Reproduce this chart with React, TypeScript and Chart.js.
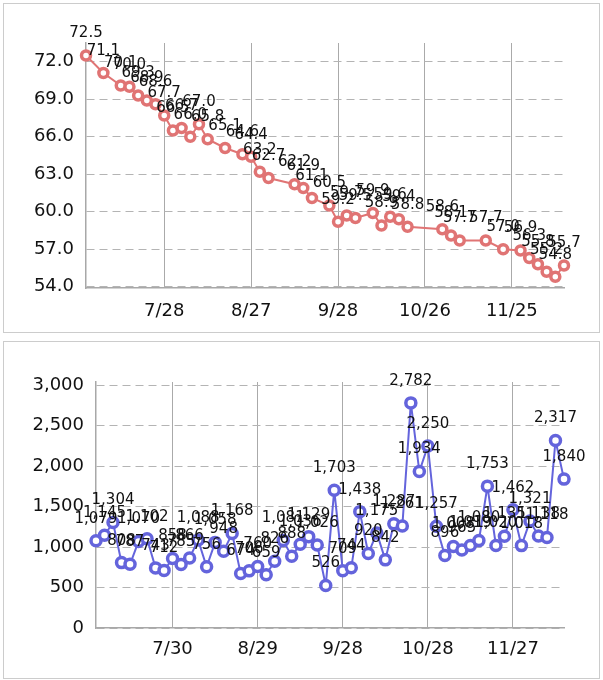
import React, { useEffect, useRef } from 'react';
import { Chart, registerables } from 'chart.js';

Chart.register(...registerables);

// ---------- Top chart (weight) ----------
const weightTickIndex = [9, 19, 29, 39, 49];
const weightTickLabels = ['7/28', '8/27', '9/28', '10/26', '11/25'];
const weightValues: (number | null)[] = [
  72.5, null, 71.1, null, 70.1, 70.0, 69.3, 68.9, 68.6, 67.7,
  66.5, 66.7, 66.0, 67.0, 65.8, null, 65.1, null, 64.6, 64.4,
  63.2, 62.7, null, null, 62.2, 61.9, 61.1, null, 60.5, 59.2,
  59.7, 59.5, null, 59.9, 58.9, 59.6, 59.4, 58.8, null, null,
  null, 58.6, 58.1, 57.7, null, null, 57.7, null, 57.0, null,
  56.9, 56.3, 55.8, 55.2, 54.8, 55.7,
];
const weightYTicks = [54, 57, 60, 63, 66, 69, 72];

// ---------- Bottom chart ----------
const countTickIndex = [9, 19, 29, 39, 49];
const countTickLabels = ['7/30', '8/29', '9/28', '10/28', '11/27'];
const countValues: number[] = [
  1079, 1145, 1304, 808, 787, 1070, 1102, 743, 712, 858,
  785, 866, 1088, 756, 1058, 948, 1168, 674, 706, 760,
  659, 826, 1081, 888, 1036, 1129, 1026, 526, 1703, 709,
  744, 1438, 920, 1175, 842, 1287, 1261, 2782, 1934, 2250,
  1257, 896, 1008, 965, 1019, 1080, 1753, 1020, 1135, 1462,
  1018, 1321, 1138, 1118, 2317, 1840,
];
const countYTicks = [0, 500, 1000, 1500, 2000, 2500, 3000];

const FONT = 'DejaVu Sans';

function buildLabels(n: number, idx: number[], names: string[]) {
  return Array.from({ length: n }, (_, i) => {
    const k = idx.indexOf(i);
    return k >= 0 ? names[k] : '';
  });
}

function makeLabelPlugin(fmt: (v: number) => string, offset: number) {
  return {
    id: 'valueLabels',
    afterDatasetsDraw(chart: any) {
      const ctx = chart.ctx;
      const meta = chart.getDatasetMeta(0);
      const data = chart.data.datasets[0].data as (number | null)[];
      ctx.save();
      ctx.font = `15px "${FONT}"`;
      ctx.fillStyle = '#111';
      ctx.textAlign = 'center';
      ctx.textBaseline = 'middle';
      meta.data.forEach((pt: any, i: number) => {
        const v = data[i];
        if (v == null) return;
        ctx.fillText(fmt(v), pt.x, pt.y - offset);
      });
      ctx.restore();
    },
  };
}

type CardProps = {
  width: number;
  height: number;
  labels: string[];
  tickIndex: number[];
  values: (number | null)[];
  color: string;
  yMin: number;
  yMax: number;
  yTicks: number[];
  yFmt: (v: number) => string;
  labelFmt: (v: number) => string;
  yAxisWidth: number;
  xAxisHeight: number;
  padTop: number;
  padRight: number;
  pointRadius: number;
  xPad: number;
};

function LineChart(p: CardProps) {
  const ref = useRef<HTMLCanvasElement | null>(null);
  useEffect(() => {
    if (!ref.current) return;
    const chart = new Chart(ref.current, {
      type: 'line',
      data: {
        labels: p.labels,
        datasets: [
          {
            data: p.values,
            borderColor: p.color,
            backgroundColor: '#ffffff',
            borderWidth: 2,
            pointRadius: p.pointRadius,
            pointBorderWidth: 3.5,
            pointBorderColor: p.color,
            pointBackgroundColor: '#ffffff',
            spanGaps: true,
            tension: 0,
            clip: false as any,
          },
        ],
      },
      options: {
        responsive: false,
        animation: false,
        devicePixelRatio: 1,
        events: [],
        layout: { padding: { top: p.padTop, right: p.padRight, left: 0, bottom: 0 } },
        plugins: {
          legend: { display: false },
          tooltip: { enabled: false },
          title: { display: false },
        },
        scales: {
          x: {
            type: 'category',
            offset: false,
            afterBuildTicks: (axis: any) => {
              axis.ticks = axis.ticks.filter((t: any) => p.tickIndex.includes(t.value));
            },
            afterFit: (axis: any) => {
              axis.height = p.xAxisHeight;
            },
            ticks: {
              autoSkip: false,
              maxRotation: 0,
              minRotation: 0,
              padding: p.xPad,
              color: '#111',
              font: { family: FONT, size: 18 },
            },
            grid: { color: '#aaaaaa', lineWidth: 1, drawTicks: false },
            border: { display: true, color: '#a8a8a8', width: 1.5 },
          },
          y: {
            type: 'linear',
            min: p.yMin,
            max: p.yMax,
            afterBuildTicks: (axis: any) => {
              axis.ticks = p.yTicks.map((v) => ({ value: v }));
            },
            afterFit: (axis: any) => {
              axis.width = p.yAxisWidth;
            },
            ticks: {
              padding: 12,
              color: '#111',
              font: { family: FONT, size: 18 },
              callback: (v: any) => p.yFmt(Number(v)),
            },
            grid: { color: '#b4b4b4', lineWidth: 1, drawTicks: false },
            border: { display: true, color: '#a8a8a8', width: 1.5, dash: [8, 5] },
          },
        },
      },
      plugins: [makeLabelPlugin(p.labelFmt, 22)],
    });
    return () => chart.destroy();
  }, []);
  return <canvas ref={ref} width={p.width} height={p.height} style={{ display: 'block' }} />;
}

export default function App() {
  const weightLabels = buildLabels(weightValues.length, weightTickIndex, weightTickLabels);
  const countLabels = buildLabels(countValues.length, countTickIndex, countTickLabels);
  const cardStyle: React.CSSProperties = {
    position: 'absolute',
    left: 3,
    width: 597,
    boxSizing: 'border-box',
    border: '1px solid #cccccc',
    background: '#ffffff',
    overflow: 'hidden',
  };
  return (
    <div style={{ position: 'absolute', left: 0, top: 0, width: 603, height: 680, background: '#ffffff' }}>
      <div style={{ ...cardStyle, top: 3, height: 330 }}>
        <LineChart
          width={595}
          height={328}
          labels={weightLabels}
          tickIndex={weightTickIndex}
          values={weightValues}
          color="#e07474"
          yMin={53.9}
          yMax={73.5}
          yTicks={weightYTicks}
          yFmt={(v) => v.toFixed(1)}
          labelFmt={(v) => v.toFixed(1)}
          yAxisWidth={82}
          xAxisHeight={44}
          padTop={39}
          padRight={35}
          pointRadius={4.5}
          xPad={13}
        />
      </div>
      <div style={{ ...cardStyle, top: 341, height: 338 }}>
        <LineChart
          width={595}
          height={336}
          labels={countLabels}
          tickIndex={countTickIndex}
          values={countValues}
          color="#6464dc"
          yMin={0}
          yMax={3040}
          yTicks={countYTicks}
          yFmt={(v) => v.toLocaleString('en-US')}
          labelFmt={(v) => v.toLocaleString('en-US')}
          yAxisWidth={92}
          xAxisHeight={50}
          padTop={40}
          padRight={35}
          pointRadius={5}
          xPad={11}
        />
      </div>
    </div>
  );
}
